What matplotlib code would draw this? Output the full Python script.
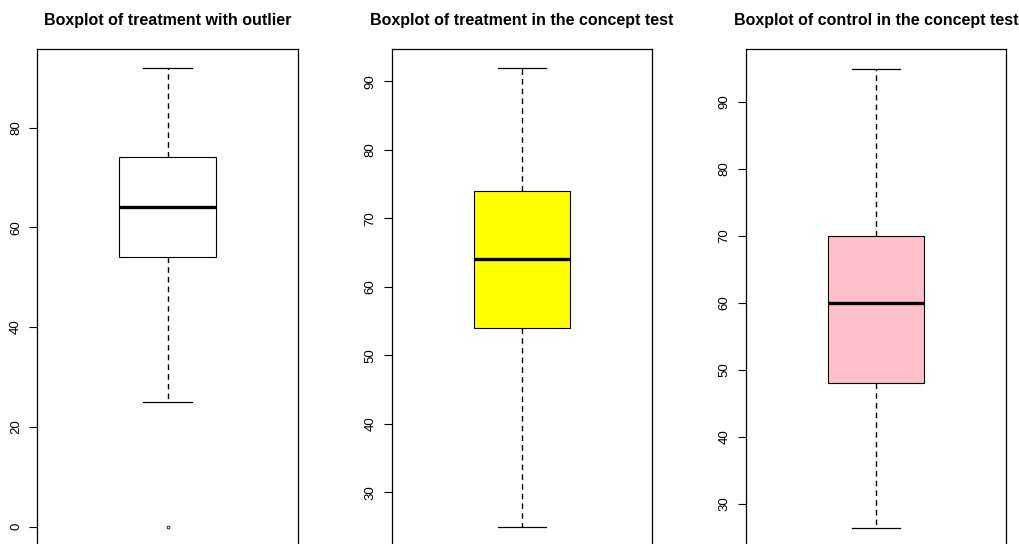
import matplotlib
matplotlib.use("Agg")
import matplotlib.pyplot as plt

plt.rcParams["font.family"] = ["Liberation Sans", "DejaVu Sans"]

# five-number summaries for each group
titles = ["Boxplot of treatment with outlier",
          "Boxplot of treatment in the concept test",
          "Boxplot of control in the concept test"]
whislo = [25, 25, 26.4]
q1 = [54, 54, 48]
med = [64, 64, 60]
q3 = [74, 74, 70]
whishi = [92, 92, 95]
fliers = [[0], [], []]
fills = ["white", "#FFFF00", "#FFC0CB"]
ylims = [(-3.68, 95.68), (22.32, 94.68), (23.83, 97.87)]
yticks = [[0, 20, 40, 60, 80],
          [30, 40, 50, 60, 70, 80, 90],
          [30, 40, 50, 60, 70, 80, 90]]

W, H = 1020, 544
fig = plt.figure(figsize=(W / 100, H / 100), dpi=100)

lefts = [37.3, 391.7, 745.7]
width = 260.5
top, bottom = 49.3, 545.0

for i in range(3):
    ax = fig.add_axes([lefts[i] / W, (H - bottom) / H, width / W, (bottom - top) / H])
    stats = [dict(whislo=whislo[i], q1=q1[i], med=med[i], q3=q3[i],
                  whishi=whishi[i], fliers=fliers[i])]
    ax.bxp(stats, positions=[1], widths=0.4, patch_artist=True,
           boxprops=dict(facecolor=fills[i], edgecolor="black", linewidth=0.8),
           medianprops=dict(color="black", linewidth=2.4, solid_capstyle="butt"),
           whiskerprops=dict(color="black", linewidth=1.0, linestyle=(0, (4, 3))),
           capprops=dict(color="black", linewidth=0.9),
           flierprops=dict(marker="o", markersize=2.0, markerfacecolor="none",
                           markeredgecolor="black", markeredgewidth=0.6))
    ax.set_xlim(0.46, 1.54)
    ax.set_ylim(*ylims[i])
    ax.set_xticks([])
    ax.set_yticks(yticks[i])
    ax.set_yticklabels([str(t) for t in yticks[i]], rotation=90, va="center",
                       fontsize=9.5)
    ax.tick_params(axis="y", length=6, width=0.8, pad=5)
    for s in ax.spines.values():
        s.set_linewidth(0.9)
    # bold title sitting above the frame
    ax.text(0.5, 1 + 28.5 / (bottom - top), titles[i], transform=ax.transAxes,
            ha="center", va="center", fontsize=11.5, fontweight="bold")

fig.savefig("out.png", dpi=100)
